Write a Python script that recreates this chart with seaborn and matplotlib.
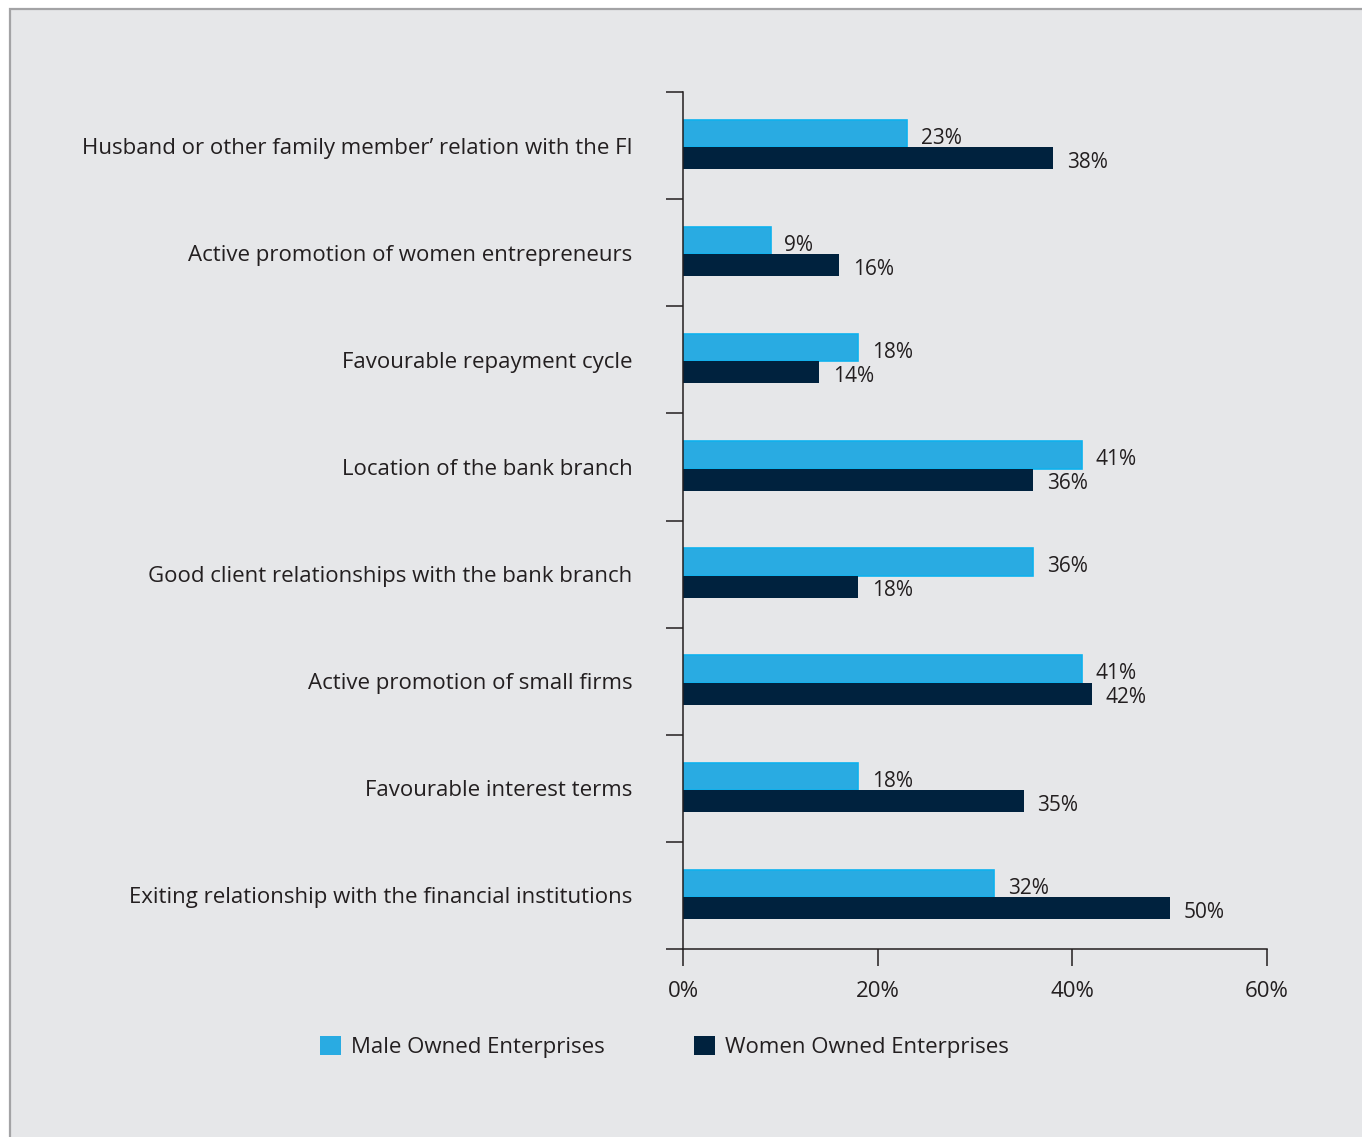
import matplotlib
matplotlib.use("Agg")
import matplotlib.pyplot as plt
from matplotlib.patches import Rectangle, Patch
from matplotlib.ticker import FixedLocator, PercentFormatter
import numpy as np
import pandas as pd
import seaborn as sns

factors = [
    "Husband or other family member\u2019 relation with the FI",
    "Active promotion of women entrepreneurs",
    "Favourable repayment cycle",
    "Location of the bank branch",
    "Good client relationships with the bank branch",
    "Active promotion of small firms",
    "Favourable interest terms",
    "Exiting relationship with the financial institutions",
]
male_owned = [23, 9, 18, 41, 36, 41, 18, 32]
women_owned = [38, 16, 14, 36, 18, 42, 35, 50]
groups = ["Male Owned Enterprises", "Women Owned Enterprises"]
x_ticks = [0, 20, 40, 60]

MALE_C = "#29abe2"
MALE_EDGE = "#0fb2ee"
WOMEN_C = "#00223e"
TEXT_C = "#231f20"
PANEL_C = "#e6e7e9"

df = pd.DataFrame({
    "factor": factors * 2,
    "value": male_owned + women_owned,
    "group": [groups[0]] * len(factors) + [groups[1]] * len(factors),
})

sns.set_theme(style="white")
plt.rcParams["font.family"] = ["Open Sans", "DejaVu Sans"]
plt.rcParams["text.color"] = TEXT_C

W, H = 1362, 1137
fig = plt.figure(figsize=(W / 100, H / 100), dpi=100, facecolor="white")
fig.patches.append(Rectangle((9.5 / W, -0.01), 1.02, 1 - 8.5 / H + 0.01,
                             transform=fig.transFigure, facecolor=PANEL_C,
                             edgecolor="#a3a3a5", linewidth=1.6, zorder=-5))

ax = fig.add_axes([683 / W, 1 - 949 / H, (1267 - 683) / W, (949 - 92) / H])
ax.set_facecolor("none")

sns.barplot(data=df, y="factor", x="value", hue="group", orient="h",
            palette=[MALE_C, WOMEN_C], width=0.5, legend=False, ax=ax,
            saturation=1)

# uneven bar thicknesses: lighter series a bit taller, stacked on top
male_bars, women_bars = ax.containers[0], ax.containers[1]
for i, p in enumerate(male_bars.patches):
    p.set_y(i - 0.24)
    p.set_height(0.255)
    p.set_edgecolor(MALE_EDGE)
    p.set_linewidth(1.2)
for i, p in enumerate(women_bars.patches):
    p.set_y(i + 0.015)
    p.set_height(0.205)
    p.set_linewidth(0)

LABEL_FS = 15
for i, v in enumerate(male_owned):
    ax.annotate(f"{v}%", xy=(v, i - 0.1125), xytext=(10, -3.5), textcoords="offset points",
                ha="left", va="center", fontsize=LABEL_FS, color=TEXT_C)
for i, v in enumerate(women_owned):
    ax.annotate(f"{v}%", xy=(v, i + 0.1175), xytext=(10, -3), textcoords="offset points",
                ha="left", va="center", fontsize=LABEL_FS, color=TEXT_C)

ax.set_xlim(0, 60)
ax.set_ylim(len(factors) - 0.5, -0.5)
ax.set_xlabel("")
ax.set_ylabel("")

ax.xaxis.set_major_locator(FixedLocator(x_ticks))
ax.xaxis.set_major_formatter(PercentFormatter(decimals=0))
ax.yaxis.set_minor_locator(FixedLocator(np.arange(-0.5, len(factors), 1.0)))

for s in ["top", "right"]:
    ax.spines[s].set_visible(False)
for s in ["left", "bottom"]:
    ax.spines[s].set_color(TEXT_C)
    ax.spines[s].set_linewidth(1.1)

ax.tick_params(axis="x", which="major", bottom=True, length=12.3, width=1.1,
               color=TEXT_C, pad=10.5, labelsize=16, labelcolor=TEXT_C)
ax.tick_params(axis="y", which="major", left=False, length=0, pad=36.5,
               labelsize=16, labelcolor=TEXT_C)
ax.tick_params(axis="y", which="minor", left=True, length=12.3, width=1.1,
               color=TEXT_C)
ax.grid(False)

handles = [Patch(facecolor=MALE_C, edgecolor="none"),
           Patch(facecolor=WOMEN_C, edgecolor="none")]
fig.legend(handles, groups, loc="center left",
           bbox_to_anchor=(320 / W, 1 - 1047 / H), ncol=2, frameon=False,
           fontsize=16, handlelength=0.95, handleheight=0.95, handletextpad=0.45,
           columnspacing=4.0, borderpad=0, borderaxespad=0)

fig.savefig("out.png", dpi=100, facecolor="white")
